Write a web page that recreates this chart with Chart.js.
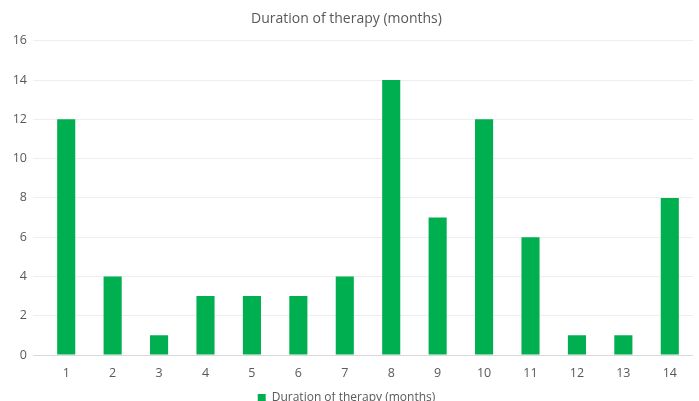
<!DOCTYPE html>
<html>
<head>
<meta charset="utf-8">
<script src="https://cdn.jsdelivr.net/npm/chart.js@4/dist/chart.umd.min.js"></script>
<style>
  html, body { margin: 0; padding: 0; background: #ffffff; overflow: hidden; }
  #wrap { width: 699px; height: 401px; overflow: hidden; position: relative; }
  #box { width: 699px; height: 414px; position: absolute; left: 0; top: 0; }
</style>
</head>
<body>
<div id="wrap"><div id="box"><canvas id="c"></canvas></div></div>
<script>
// Therapy duration per patient
const categories = ['1','2','3','4','5','6','7','8','9','10','11','12','13','14'];
const seriesName = 'Duration of therapy (months)';
const durationMonths = [12, 4, 1, 3, 3, 3, 4, 14, 7, 12, 6, 1, 1, 8];
const yTicks = [0, 2, 4, 6, 8, 10, 12, 14, 16];

const textColor = '#595959';
const fontFamily = "'Open Sans', 'Liberation Sans', sans-serif";

new Chart(document.getElementById('c'), {
  type: 'bar',
  data: {
    labels: categories,
    datasets: [{
      label: seriesName,
      data: durationMonths,
      backgroundColor: '#00B050',
      borderWidth: 0,
      barPercentage: 1,
      categoryPercentage: 0.39
    }]
  },
  options: {
    responsive: true,
    maintainAspectRatio: false,
    animation: false,
    layout: { padding: { left: 0, right: 6, top: 0, bottom: 0 } },
    plugins: {
      title: {
        display: true,
        text: seriesName,
        color: textColor,
        font: { family: fontFamily, size: 14, weight: 'normal' },
        padding: { top: 11, bottom: 13 }
      },
      legend: {
        display: true,
        position: 'bottom',
        labels: {
          color: textColor,
          font: { family: fontFamily, size: 12 },
          boxWidth: 8,
          boxHeight: 8,
          padding: 0
        }
      },
      tooltip: { enabled: false }
    },
    scales: {
      x: {
        grid: { display: false, drawTicks: false },
        border: { display: false },
        ticks: { color: textColor, font: { family: fontFamily, size: 12.5 }, padding: 11 }
      },
      y: {
        min: 0,
        max: 16,
        afterBuildTicks: (s) => { s.ticks = yTicks.map(v => ({ value: v })); },
        afterFit: (s) => { s.width = 43; },
        grid: {
          color: (ctx) => ctx.tick && ctx.tick.value === 0 ? '#d9d9d9' : '#eeeeee',
          tickLength: 10,
          lineWidth: 1
        },
        border: { display: false },
        ticks: { color: textColor, font: { family: fontFamily, size: 12.5 }, padding: 6 }
      }
    }
  }
});
</script>
</body>
</html>
